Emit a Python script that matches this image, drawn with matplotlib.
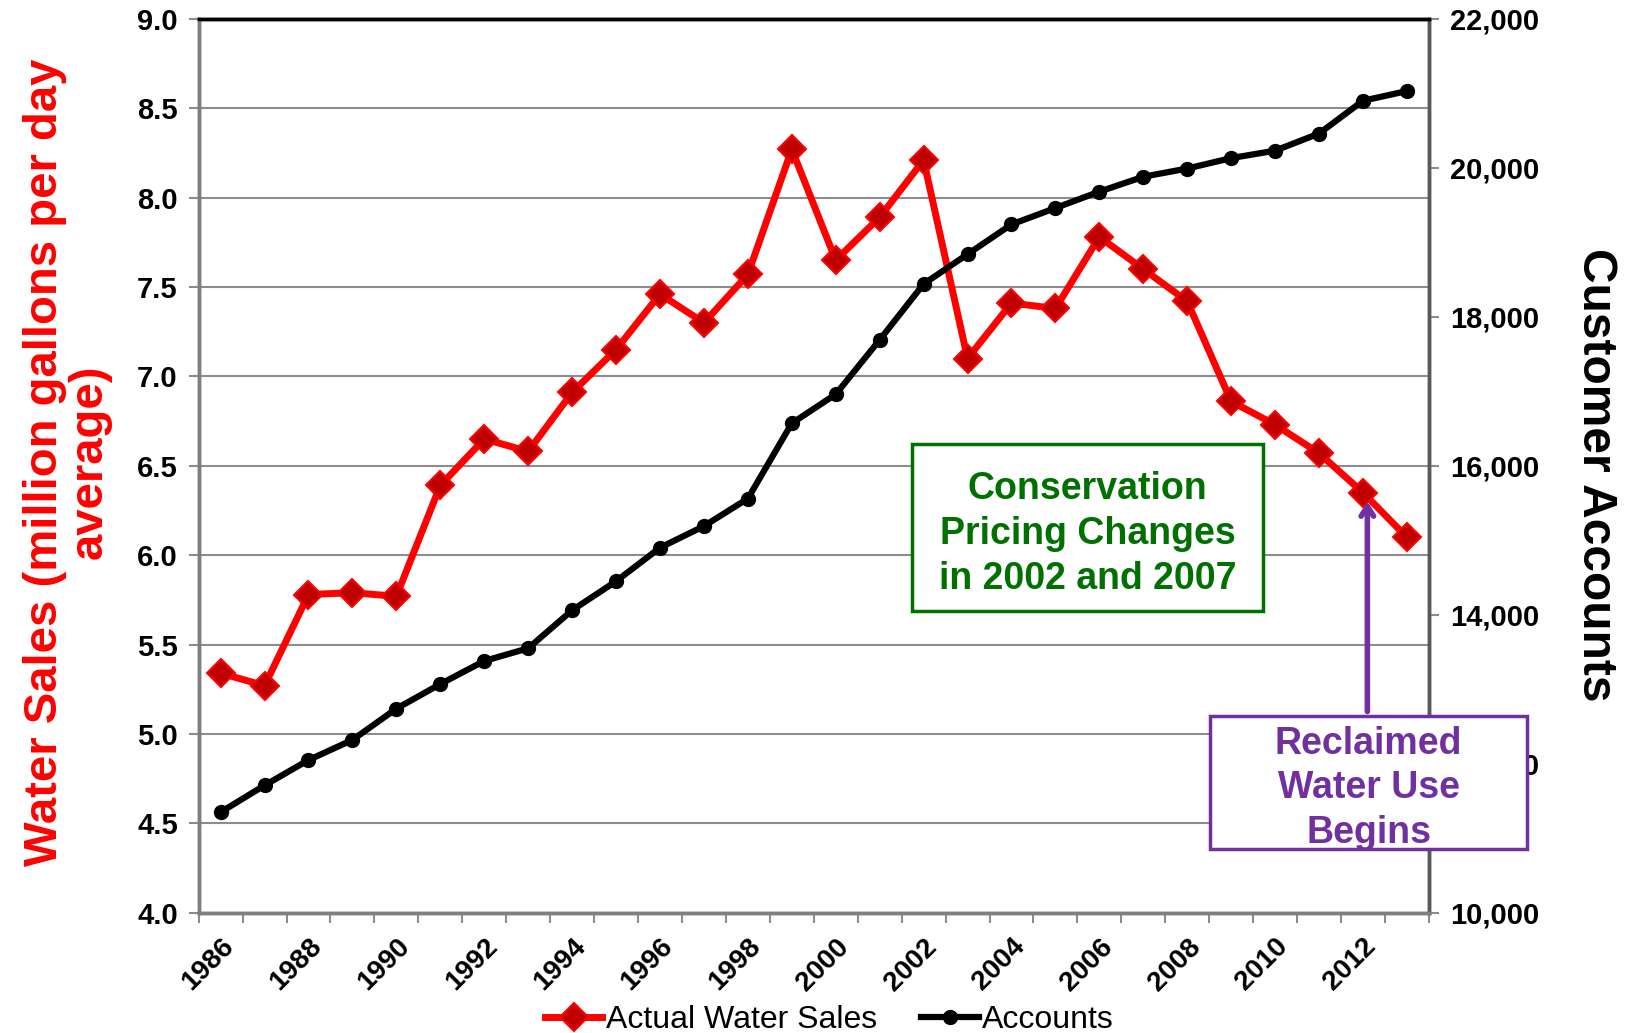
import matplotlib
matplotlib.use("Agg")
import matplotlib.pyplot as plt
from matplotlib.patches import Rectangle
from matplotlib.transforms import ScaledTranslation

plt.rcParams['font.family'] = ['Liberation Sans', 'DejaVu Sans']

# Datos
years = list(range(1986, 2014))
water_sales = [5.34, 5.27, 5.78, 5.79, 5.77, 6.39, 6.65, 6.58, 6.91, 7.15,
               7.46, 7.30, 7.57, 8.27, 7.65, 7.89, 8.21, 7.10, 7.41, 7.38,
               7.78, 7.60, 7.42, 6.86, 6.73, 6.57, 6.35, 6.10]
accounts = [11350, 11710, 12050, 12320, 12740, 13070, 13380, 13550, 14060, 14450,
            14900, 15190, 15560, 16570, 16960, 17690, 18440, 18840, 19240, 19460,
            19680, 19880, 19990, 20130, 20230, 20460, 20900, 21030]
left_ticks = [4.0, 4.5, 5.0, 5.5, 6.0, 6.5, 7.0, 7.5, 8.0, 8.5, 9.0]
right_ticks = [10000, 12000, 14000, 16000, 18000, 20000, 22000]

red = '#FF0000'
dark_red = '#C00000'
green = '#007000'
purple = '#7030A0'
grid_gray = '#8C8C8C'

fig = plt.figure(figsize=(16.39, 10.33), dpi=100)
ax = fig.add_axes([0.1212, 0.1164, 0.7506, 0.8654])
ax2 = ax.twinx()

x = list(range(len(years)))

ax.plot(x, water_sales, color=red, lw=5, marker='D', ms=14,
        mfc=dark_red, mec=red, mew=1.5, zorder=4, label='Actual Water Sales')
ax2.plot(x, accounts, color='black', lw=4.5, marker='o', ms=10,
         zorder=3, label='Accounts')

# Ejes
ax.set_xlim(-0.5, len(years) - 0.5)
ax.set_ylim(4.0, 9.0)
ax2.set_ylim(10000, 22000)
ax.set_yticks(left_ticks)
ax.set_yticklabels([f"{v:.1f}" for v in left_ticks], fontsize=21, fontweight='bold')
ax2.set_yticks(right_ticks)
ax2.set_yticklabels([f"{v:,}" for v in right_ticks], fontsize=21, fontweight='bold')

ax.set_xticks(x[::2])
ax.set_xticklabels([str(y) for y in years[::2]], rotation=45, ha='right',
                   rotation_mode='anchor', fontsize=20, fontweight='bold')
shift = ScaledTranslation(-4 / 72, 0, fig.dpi_scale_trans)
for lbl in ax.get_xticklabels():
    lbl.set_transform(lbl.get_transform() + shift)
ax.set_xticks([i - 0.5 for i in range(len(years) + 1)], minor=True)
ax.tick_params(axis='x', which='major', length=0, pad=15)
ax.tick_params(axis='x', which='minor', length=7, width=1.5, color=grid_gray)
ax.tick_params(axis='y', length=7, width=1.5, color=grid_gray, pad=8)
ax2.tick_params(axis='y', length=7, width=1.5, color=grid_gray, pad=8)

ax.yaxis.grid(True, color=grid_gray, lw=1.5)
ax.set_axisbelow(True)

for a in (ax, ax2):
    a.spines['left'].set_color('#7F7F7F')
    a.spines['bottom'].set_color('#7F7F7F')
    a.spines['right'].set_color('#595959')
    a.spines['top'].set_color('black')
    for s in a.spines.values():
        s.set_linewidth(2.5)

ax.set_ylabel("Water Sales (million gallons per day\naverage)", color=red,
              fontsize=34, fontweight='bold', linespacing=1.0)
ax.yaxis.set_label_coords(-0.071, 0.504)
ax2.set_ylabel("Customer Accounts", fontsize=34.5, fontweight='bold', rotation=-90)
ax2.yaxis.set_label_coords(1.154, 0.49)

# Cuadros de texto
ax2.add_patch(Rectangle((0.580, 0.337), 0.285, 0.187, transform=ax2.transAxes,
                        facecolor='white', edgecolor=green, lw=2.5, zorder=6))
ax2.text(0.7225, 0.424, "Conservation\nPricing Changes\nin 2002 and 2007",
         transform=ax2.transAxes, ha='center', va='center', color=green,
         fontsize=27, fontweight='bold', linespacing=1.32, zorder=7)

ax2.annotate("", xy=(26.1, 15560), xycoords='data',
             xytext=(26.1, 0.222), textcoords=('data', 'axes fraction'),
             arrowprops=dict(arrowstyle='->,head_length=0.7,head_width=0.45',
                             color=purple, lw=4), zorder=6)
ax2.add_patch(Rectangle((0.822, 0.071), 0.258, 0.149, transform=ax2.transAxes,
                        facecolor='white', edgecolor=purple, lw=2.5, zorder=8,
                        clip_on=False))
ax2.text(0.951, 0.139, "Reclaimed\nWater Use\nBegins",
         transform=ax2.transAxes, ha='center', va='center', color=purple,
         fontsize=27, fontweight='bold', linespacing=1.32, zorder=9)

# Leyenda
h1, l1 = ax.get_legend_handles_labels()
h2, l2 = ax2.get_legend_handles_labels()
fig.legend(h1 + h2, l1 + l2, loc='lower center', bbox_to_anchor=(0.506, -0.03),
           ncol=2, frameon=False, fontsize=23, handlelength=1.8,
           handletextpad=0.1, columnspacing=1.4)

fig.savefig("out.png", dpi=100)
